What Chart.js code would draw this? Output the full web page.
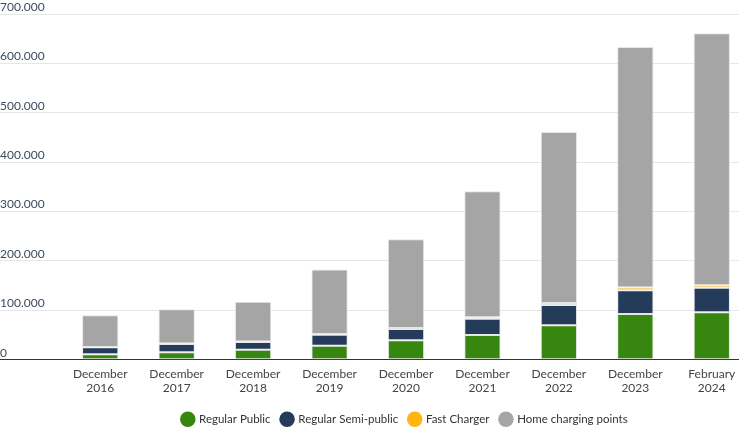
<!DOCTYPE html>
<html>
<head>
<meta charset="utf-8">
<script src="https://cdn.jsdelivr.net/npm/chart.js@4/dist/chart.umd.min.js"></script>
<style>
  html, body { margin: 0; padding: 0; overflow: hidden; background: #fff; }
  #wrap { width: 750px; height: 435px; }
</style>
</head>
<body>
<div id="wrap"><canvas id="chargingChart"></canvas></div>
<script>
// Charging points per category
const categories = [
    ['December', '2016'], ['December', '2017'], ['December', '2018'],
    ['December', '2019'], ['December', '2020'], ['December', '2021'],
    ['December', '2022'], ['December', '2023'], ['February', '2024']
];
const regularPublic = [11000, 15000, 20000, 28000, 39500, 50000, 70000, 92500, 96000];
const regularSemiPublic = [14000, 17000, 16000, 22500, 22500, 33000, 41000, 48000, 49500];
const fastCharger = [600, 750, 1100, 1300, 2000, 3000, 4000, 5500, 5500];
const homeCharging = [64500, 69500, 80000, 131000, 180000, 255000, 346000, 487000, 510000];
const yTicks = [0, 100000, 200000, 300000, 400000, 500000, 600000, 700000];

function dotted(v) {
    return String(v).replace(/\B(?=(\d{3})+(?!\d))/g, '.');
}

// move the legend a bit to the right, like in the original
const shiftLegend = {
    id: 'shiftLegend',
    afterLayout(chart) {
        chart.legend.left += 30;
        chart.legend.right += 30;
    }
};

Chart.defaults.font.family = 'Lato';
Chart.defaults.font.size = 12;

const barStyle = {
    borderColor: '#e6e6e6',
    borderWidth: 1,
    borderSkipped: false,
    barPercentage: 0.475,
    categoryPercentage: 1
};

new Chart(document.getElementById('chargingChart'), {
    type: 'bar',
    data: {
        labels: categories,
        datasets: [
            Object.assign({ label: 'Regular Public', data: regularPublic, backgroundColor: '#37860f' }, barStyle),
            Object.assign({ label: 'Regular Semi-public', data: regularSemiPublic, backgroundColor: '#243b5a' }, barStyle),
            Object.assign({ label: 'Fast Charger', data: fastCharger, backgroundColor: '#ffb612' }, barStyle),
            Object.assign({ label: 'Home charging points', data: homeCharging, backgroundColor: '#a5a5a5' }, barStyle)
        ]
    },
    options: {
        responsive: true,
        maintainAspectRatio: false,
        animation: false,
        layout: { padding: { top: 14, left: 0, right: 0, bottom: 0 } },
        scales: {
            x: {
                stacked: true,
                grid: { display: false, drawTicks: false },
                border: { display: false },
                ticks: { color: '#444', padding: 7, maxRotation: 0, autoSkip: false }
            },
            y: {
                stacked: true,
                min: 0,
                max: 700000,
                afterBuildTicks: function(scale) {
                    scale.ticks = yTicks.map(v => ({ value: v }));
                },
                afterFit: function(scale) {
                    scale.width = 62;
                },
                border: { display: false },
                grid: {
                    color: ctx => ctx.tick && ctx.tick.value === 0 ? '#333' : '#e6e6e6',
                    lineWidth: 1,
                    drawTicks: true,
                    tickLength: 62
                },
                ticks: {
                    color: '#3d4b5e',
                    crossAlign: 'far',
                    padding: 0,
                    labelOffset: -7,
                    callback: v => dotted(v)
                }
            }
        },
        plugins: {
            legend: {
                position: 'bottom',
                labels: {
                    usePointStyle: true,
                    pointStyle: 'circle',
                    boxWidth: 11,
                    boxHeight: 11,
                    padding: 11,
                    color: '#333',
                    font: { size: 11.5 },
                    generateLabels: function(chart) {
                        return Chart.defaults.plugins.legend.labels.generateLabels(chart).map(function(l) {
                            l.strokeStyle = l.fillStyle;
                            l.lineWidth = 0;
                            return l;
                        });
                    }
                }
            },
            tooltip: {
                callbacks: {
                    label: function(context) {
                        return context.dataset.label + ': ' + dotted(context.raw);
                    }
                }
            }
        }
    },
    plugins: [shiftLegend]
});
</script>
</body>
</html>
